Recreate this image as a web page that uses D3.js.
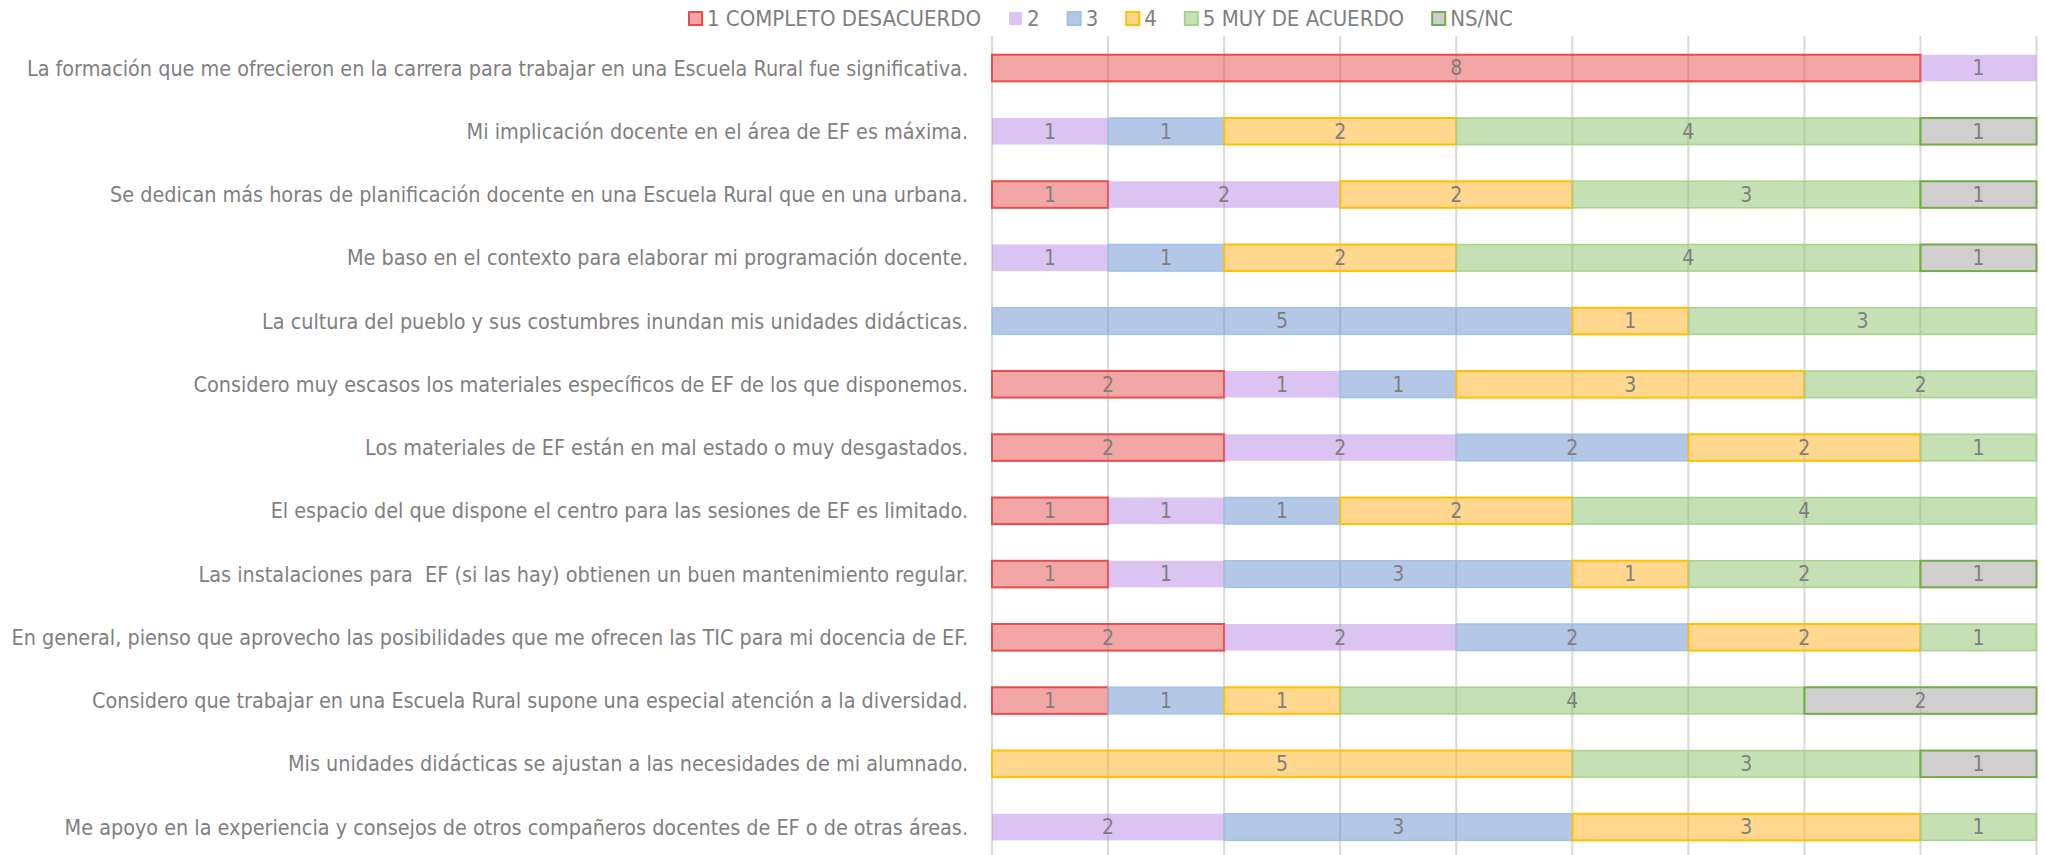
<!DOCTYPE html>
<html>
<head>
<meta charset="utf-8">
<title>Escuela Rural - EF</title>
<style>
  body { margin: 0; background: #fff; }
  svg text { font-family: "Liberation Sans Narrow", "DejaVu Sans Condensed", "Open Sans", sans-serif; fill: #7f7f7f; }
</style>
</head>
<body>
<div id="chart"></div>
<script src="https://d3js.org/d3.v7.min.js"></script>
<script>
// preguntas (de arriba a abajo)
var categories = [
  "La formación que me ofrecieron en la carrera para trabajar en una Escuela Rural fue significativa.",
  "Mi implicación docente en el área de EF es máxima.",
  "Se dedican más horas de planificación docente en una Escuela Rural que en una urbana.",
  "Me baso en el contexto para elaborar mi programación docente.",
  "La cultura del pueblo y sus costumbres inundan mis unidades didácticas.",
  "Considero muy escasos los materiales específicos de EF de los que disponemos.",
  "Los materiales de EF están en mal estado o muy desgastados.",
  "El espacio del que dispone el centro para las sesiones de EF es limitado.",
  "Las instalaciones para  EF (si las hay) obtienen un buen mantenimiento regular.",
  "En general, pienso que aprovecho las posibilidades que me ofrecen las TIC para mi docencia de EF.",
  "Considero que trabajar en una Escuela Rural supone una especial atención a la diversidad.",
  "Mis unidades didácticas se ajustan a las necesidades de mi alumnado.",
  "Me apoyo en la experiencia y consejos de otros compañeros docentes de EF o de otras áreas."
];

var seriesNames = ["1 COMPLETO DESACUERDO", "2", "3", "4", "5 MUY DE ACUERDO", "NS/NC"];

// respuestas por nivel, una por pregunta
var s1    = [8, 0, 1, 0, 0, 2, 2, 1, 1, 2, 1, 0, 0];
var s2    = [1, 1, 2, 1, 0, 1, 2, 1, 1, 2, 0, 0, 2];
var s3    = [0, 1, 0, 1, 5, 1, 2, 1, 3, 2, 1, 0, 3];
var s4    = [0, 2, 2, 2, 1, 3, 2, 2, 1, 2, 1, 5, 3];
var s5    = [0, 4, 3, 4, 3, 2, 1, 4, 2, 1, 4, 3, 1];
var sNSNC = [0, 1, 1, 1, 0, 0, 0, 0, 1, 0, 2, 1, 0];

var xTicks = [0, 1, 2, 3, 4, 5, 6, 7, 8, 9];

// colores estilo Excel
var fills   = ["#e54d4d", "#b989e5", "#698fcf", "#ffaf1f", "#8bc169", "#a19d9d"];
var strokes = ["#e84c4c", "none", "#9dc3e6", "#ffc000", "#a9d18e", "#70ad47"];
var strokeW = [2, 0, 1.5, 2, 1.5, 2];

var width = 2045, height = 855;
var fontSize = 21;

var allSeries = [s1, s2, s3, s4, s5, sNSNC];
var rows = categories.map(function(c, i) {
  var r = { cat: c };
  seriesNames.forEach(function(n, k) { r[n] = allSeries[k][i]; });
  return r;
});

var stacked = d3.stack().keys(seriesNames)(rows);

var x = d3.scaleLinear().domain([0, 9]).range([992, 2036.5]);
var y = d3.scaleBand().domain(categories).range([36.4, 858.7])
  .paddingInner(0.58).paddingOuter(0.29);

var svg = d3.select("#chart").append("svg")
  .attr("width", width).attr("height", height);

// rejilla vertical
svg.append("g").selectAll("line")
  .data(xTicks)
  .enter().append("line")
  .attr("x1", function(d) { return x(d); })
  .attr("x2", function(d) { return x(d); })
  .attr("y1", 36)
  .attr("y2", height)
  .attr("stroke", "#d9d9d9")
  .attr("stroke-width", 2);

// barras apiladas
var layers = svg.append("g").selectAll("g")
  .data(stacked)
  .enter().append("g");

layers.selectAll("rect")
  .data(function(d) { return d.map(function(v) { return { v: v, k: d.index }; }); })
  .enter().append("rect")
  .filter(function(d) { return d.v[1] - d.v[0] > 0; })
  .attr("x", function(d) { return x(d.v[0]); })
  .attr("y", function(d) { return y(d.v.data.cat); })
  .attr("width", function(d) { return x(d.v[1]) - x(d.v[0]); })
  .attr("height", y.bandwidth())
  .attr("fill", function(d) { return fills[d.k]; })
  .attr("fill-opacity", 0.5)
  .attr("stroke", function(d) { return strokes[d.k]; })
  .attr("stroke-width", function(d) { return strokeW[d.k]; });

// etiquetas de valores
layers.selectAll("text")
  .data(function(d) { return d.filter(function(v) { return v[1] - v[0] > 0; }); })
  .enter().append("text")
  .text(function(d) { return d[1] - d[0]; })
  .attr("x", function(d) { return (x(d[0]) + x(d[1])) / 2; })
  .attr("y", function(d) { return y(d.data.cat) + y.bandwidth() / 2; })
  .attr("dy", "0.35em")
  .attr("text-anchor", "middle")
  .attr("font-size", fontSize);

// preguntas
svg.append("g").selectAll("text")
  .data(categories)
  .enter().append("text")
  .text(function(d) { return d; })
  .attr("x", 968)
  .attr("y", function(d) { return y(d) + y.bandwidth() / 2; })
  .attr("dy", "0.35em")
  .attr("text-anchor", "end")
  .attr("font-size", 21.4)
  .style("white-space", "pre");

// leyenda
var legend = svg.append("g");
var lx = 688;
seriesNames.forEach(function(n, k) {
  var it = legend.append("g").attr("transform", "translate(" + lx + ",0)");
  it.append("rect")
    .attr("x", 1).attr("y", 12).attr("width", 13).attr("height", 13)
    .attr("fill", fills[k]).attr("fill-opacity", 0.5)
    .attr("stroke", k == 1 ? "none" : strokes[k])
    .attr("stroke-width", 2);
  var t = it.append("text")
    .text(n)
    .attr("x", 19).attr("y", 18.5)
    .attr("dy", "0.35em")
    .attr("font-size", 22);
  lx += 19 + t.node().getComputedTextLength() + 27;
});
</script>
</body>
</html>
